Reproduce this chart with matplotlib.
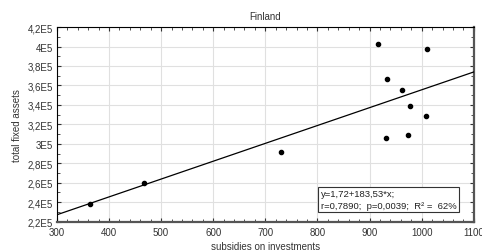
import numpy as np
import matplotlib
matplotlib.use('Agg')
import matplotlib.pyplot as plt
from matplotlib.ticker import MultipleLocator

plt.rcParams['font.family'] = ['Liberation Sans', 'DejaVu Sans']

# data
subsidies = [363, 467, 730, 916, 931, 934, 962, 974, 977, 1008, 1011]
assets = [238500, 260000, 291500, 403000, 306000, 367000, 355500, 309500, 339000, 329000, 397000]
intercept = 172000
slope = 183.53

x_ticks = [300, 400, 500, 600, 700, 800, 900, 1000, 1100]
y_ticks = [220000, 240000, 260000, 280000, 300000, 320000, 340000, 360000, 380000, 400000, 420000]
y_labels = ['2,2E5', '2,4E5', '2,6E5', '2,8E5', '3E5', '3,2E5', '3,4E5', '3,6E5', '3,8E5', '4E5', '4,2E5']

fig = plt.figure(figsize=(4.82, 2.53), dpi=100)
ax = fig.add_axes([0.118, 0.12, 0.865, 0.769])

xs = np.array([300, 1100])
ax.plot(xs, intercept + slope * xs, color='black', lw=0.9, zorder=3)
ax.scatter(subsidies, assets, s=9, c='black', zorder=4)

ax.set_xlim(300, 1100)
ax.set_ylim(220000, 420000)
ax.set_xticks(x_ticks)
ax.set_yticks(y_ticks)
ax.set_yticklabels(y_labels)
ax.xaxis.set_minor_locator(MultipleLocator(20))
ax.yaxis.set_minor_locator(MultipleLocator(10000))
ax.grid(True, which='major', color='#e0e0e0', lw=0.8)
ax.set_axisbelow(True)

ax.tick_params(which='both', direction='in', top=True, right=True,
               labelsize=7, colors='#333333')
ax.tick_params(axis='x', pad=4)
ax.tick_params(axis='y', pad=3)
ax.tick_params(which='major', length=3)
ax.tick_params(which='minor', length=2)

for s in ['top', 'left']:
    ax.spines[s].set_linewidth(0.8)
for s in ['bottom', 'right']:
    ax.spines[s].set_linewidth(1.6)
    ax.spines[s].set_color('#555555')

ax.set_title('Finland', fontsize=7, color='#333333', pad=6)
ax.set_xlabel('subsidies on investments', fontsize=7, color='#333333', labelpad=3)
ax.set_ylabel('total fixed assets', fontsize=7, color='#333333', labelpad=4)

ax.text(0.958, 0.062, 'y=1,72+183,53*x;\nr=0,7890;  p=0,0039;  R² =  62%',
        transform=ax.transAxes, ha='right', va='bottom', multialignment='left',
        fontsize=6.8, color='#222222', linespacing=1.35,
        bbox=dict(boxstyle='square,pad=0.25', fc='white', ec='#333333', lw=0.8))

fig.savefig('out.png', dpi=100)
